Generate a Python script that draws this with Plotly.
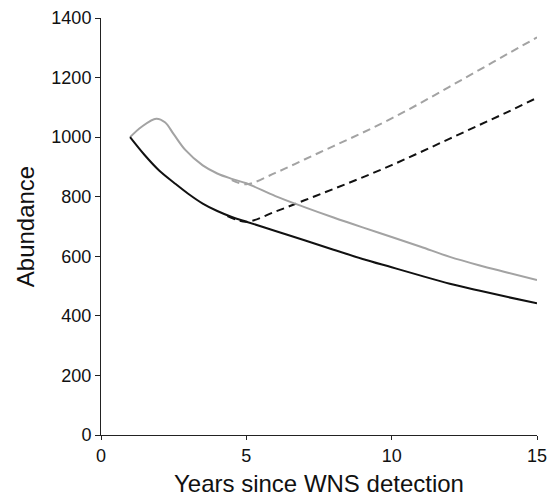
import plotly.graph_objects as go

# Years since detection
x_solid = [1.0, 1.4, 1.9, 2.2, 2.5, 2.9, 3.5, 4.0, 4.5, 5.0, 6.0, 7.0, 8.0, 9.0, 10.0, 11.0, 12.0, 13.0, 14.0, 15.0]
gray_solid = [1000, 1035, 1062, 1050, 1010, 957, 905, 878, 860, 845, 802, 765, 730, 697, 665, 632, 598, 570, 545, 520]

x_black = [1.0, 1.5, 2.0, 2.5, 3.0, 3.5, 4.0, 4.5, 5.0, 6.0, 7.0, 8.0, 9.0, 10.0, 11.0, 12.0, 13.0, 14.0, 15.0]
black_solid = [1000, 940, 888, 848, 810, 777, 752, 732, 716, 685, 654, 622, 591, 563, 535, 508, 485, 463, 442]

x_dash = [4.5, 5.0, 6.0, 7.0, 8.0, 9.0, 10.0, 11.0, 12.0, 13.0, 14.0, 15.0]
gray_dash = [856, 842, 880, 925, 970, 1015, 1063, 1115, 1170, 1225, 1280, 1335]

x_bdash = [4.35, 5.0, 6.0, 7.0, 8.0, 9.0, 10.0, 11.0, 12.0, 13.0, 14.0, 15.0]
black_dash = [735, 716, 750, 788, 826, 865, 906, 950, 995, 1040, 1085, 1132]

x_ticks = [0, 5, 10, 15]
y_ticks = [0, 200, 400, 600, 800, 1000, 1200, 1400]

GRAY = "#a3a3a3"
BLACK = "#111111"

fig = go.Figure()
fig.add_trace(go.Scatter(x=x_dash, y=gray_dash, mode="lines",
                         line=dict(color=GRAY, width=2, dash="8px,5px", shape="spline")))
fig.add_trace(go.Scatter(x=x_bdash, y=black_dash, mode="lines",
                         line=dict(color=BLACK, width=2, dash="8px,5px", shape="spline")))
fig.add_trace(go.Scatter(x=x_solid, y=gray_solid, mode="lines",
                         line=dict(color=GRAY, width=2, shape="spline")))
fig.add_trace(go.Scatter(x=x_black, y=black_solid, mode="lines",
                         line=dict(color=BLACK, width=2, shape="spline")))

font_family = "Liberation Sans, Arial, sans-serif"
fig.update_layout(
    width=555, height=498,
    margin=dict(l=101, r=18, t=18, b=63),
    paper_bgcolor="white", plot_bgcolor="white",
    showlegend=False,
    font=dict(family=font_family, color="#111111"),
    xaxis=dict(range=[0, 15], tickvals=x_ticks, showgrid=False, zeroline=False,
               automargin=False,
               showline=True, linecolor="#222222", linewidth=1,
               ticks="outside", ticklen=4, tickcolor="#222222",
               tickfont=dict(size=18),
               title=dict(text="Years since WNS detection", font=dict(size=24), standoff=10)),
    yaxis=dict(range=[0, 1400], tickvals=y_ticks, showgrid=False, zeroline=False,
               automargin=False,
               showline=True, linecolor="#222222", linewidth=1,
               ticks="outside", ticklen=5, tickcolor="#222222",
               tickfont=dict(size=18),
               title=dict(text="Abundance", font=dict(size=24), standoff=9)),
)

fig.write_html("out.html", config={"displayModeBar": False},
               post_script="document.body.style.margin='0';document.body.style.overflow='hidden';")
